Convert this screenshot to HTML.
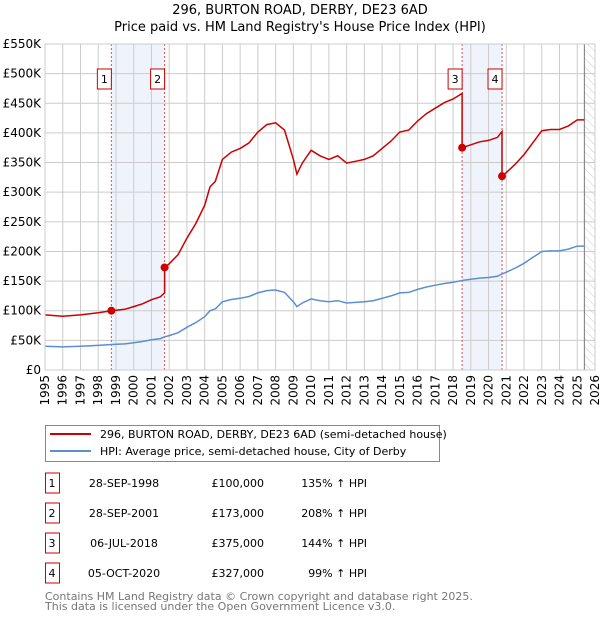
<!DOCTYPE html>
<html><head><meta charset="utf-8">
<style>
body{margin:0;background:#fff;font-family:"DejaVu Sans","Liberation Sans",sans-serif;}
svg text{font-family:"DejaVu Sans","Liberation Sans",sans-serif;}
</style></head>
<body>
<svg id="chart" width="600" height="620" xmlns="http://www.w3.org/2000/svg">
<defs>
<pattern id="hatch" width="6" height="6" patternUnits="userSpaceOnUse" patternTransform="rotate(-45)">
<line x1="0" y1="0" x2="0" y2="6" stroke="#ccc" stroke-width="1"/>
</pattern>
</defs>
<text x="300" y="14" text-anchor="middle" font-size="13">296, BURTON ROAD, DERBY, DE23 6AD</text>
<text x="300" y="31" text-anchor="middle" font-size="13">Price paid vs. HM Land Registry's House Price Index (HPI)</text>
<g id="plot"></g>
<g>
<rect x="45.5" y="425.5" width="394" height="36" fill="#fff" stroke="#888"/>
<line x1="50" y1="434" x2="91" y2="434" stroke="#cc0000" stroke-width="2"/>
<text x="100" y="438" font-size="11">296, BURTON ROAD, DERBY, DE23 6AD (semi-detached house)</text>
<line x1="50" y1="451" x2="91" y2="451" stroke="#5b8fd0" stroke-width="2"/>
<text x="100" y="455" font-size="11">HPI: Average price, semi-detached house, City of Derby</text>
</g>
<g id="table"></g>
<text x="45" y="600" font-size="11" fill="#777">Contains HM Land Registry data © Crown copyright and database right 2025.</text>
<text x="45" y="610" font-size="11" fill="#777">This data is licensed under the Open Government Licence v3.0.</text>
</svg>
<script>
const hpiYears=[1995,1996,1997,1998,1998.74,1999.5,2000,2000.5,2001,2001.5,2001.74,2002,2002.5,2003,2003.5,2004,2004.3,2004.6,2005,2005.5,2006,2006.5,2007,2007.5,2008,2008.5,2009,2009.2,2009.5,2010,2010.5,2011,2011.5,2012,2012.5,2013,2013.5,2014,2014.5,2015,2015.5,2016,2016.5,2017,2017.5,2018,2018.51,2019,2019.5,2020,2020.5,2020.76,2021,2021.5,2022,2022.5,2023,2023.5,2024,2024.5,2025,2025.4];
const hpiValues=[40000,39000,40000,41500,43000,44000,46000,48000,51000,53000,56000,58000,63000,72000,80000,90000,100000,103000,115000,119000,121000,124000,130000,134000,135000,131000,115000,107000,113000,120000,117000,115000,117000,113000,114000,115000,117000,121000,125000,130000,131000,136000,140000,143000,146000,148000,151000,153000,155000,156000,158000,162000,165000,172000,180000,190000,200000,201000,201000,204000,209000,209000];
const saleYears=[1998.74,2001.74,2018.51,2020.76];
const salePrices=[100000,173000,375000,327000];
const saleLabels=["1","2","3","4"];
const saleDates=["28-SEP-1998","28-SEP-2001","06-JUL-2018","05-OCT-2020"];
const salePriceText=["£100,000","£173,000","£375,000","£327,000"];
const saleHpiText=["135% ↑ HPI","208% ↑ HPI","144% ↑ HPI","99% ↑ HPI"];
const yTicks=[0,50000,100000,150000,200000,250000,300000,350000,400000,450000,500000,550000];
const yTickLabels=["£0","£50K","£100K","£150K","£200K","£250K","£300K","£350K","£400K","£450K","£500K","£550K"];
const xTicks=[1995,1996,1997,1998,1999,2000,2001,2002,2003,2004,2005,2006,2007,2008,2009,2010,2011,2012,2013,2014,2015,2016,2017,2018,2019,2020,2021,2022,2023,2024,2025,2026];

const NS="http://www.w3.org/2000/svg";
const X0=45,X1=595,Y0=370,Y1=44;
const xs=y=>X0+(y-1995)/(2026-1995)*(X1-X0);
const ys=v=>Y0-v/550000*(Y0-Y1);
const plot=document.getElementById('plot');
function mk(tag,attrs,parent){const e=document.createElementNS(NS,tag);for(const k in attrs)e.setAttribute(k,attrs[k]);(parent||plot).appendChild(e);return e;}
function hpiAt(t){for(let i=0;i<hpiYears.length-1;i++){if(t<=hpiYears[i+1]){const f=(t-hpiYears[i])/(hpiYears[i+1]-hpiYears[i]);return hpiValues[i]+f*(hpiValues[i+1]-hpiValues[i]);}}return hpiValues[hpiValues.length-1];}

// shaded spans
for(let i=0;i<saleYears.length;i+=2){
 const r=mk('rect',{x:xs(saleYears[i]),y:Y1,width:xs(saleYears[i+1])-xs(saleYears[i]),height:Y0-Y1,fill:'#eef3fc'});
 
 
}
// hatch
const lastY=hpiYears[hpiYears.length-1];
const h=mk('rect',{x:xs(lastY),y:Y1,width:X1-xs(lastY),height:Y0-Y1,fill:'url(#hatch)'});


// grid
yTicks.forEach((v,i)=>{
 const l=mk('line',{x1:X0,x2:X1,y1:ys(v),y2:ys(v),stroke:'#ccc','stroke-width':1});
 
 
 const t=mk('text',{x:X0-4,y:ys(v)+4,'text-anchor':'end','font-size':12});
 t.textContent=yTickLabels[i];
 
 
});
xTicks.forEach(y=>{
 const l=mk('line',{x1:xs(y),x2:xs(y),y1:Y1,y2:Y0,stroke:'#ccc','stroke-width':1});
 
 
 const t=mk('text',{x:0,y:0,'font-size':12,'text-anchor':'end',transform:`translate(${xs(y)+4},${Y0+5}) rotate(-90)`});
 t.textContent=y;
 
 
});
const vl=mk('line',{x1:xs(lastY),x2:xs(lastY),y1:Y1,y2:Y0,stroke:'#777','stroke-width':1});


// sale dashed lines
saleYears.forEach(s=>{
 const l=mk('line',{x1:xs(s),x2:xs(s),y1:Y1,y2:Y0,stroke:'#e05050','stroke-width':1,'stroke-dasharray':'2,2'});
 
 
});
// HPI line
let d='';
hpiYears.forEach((y,i)=>{d+=(i?'L':'M')+xs(y).toFixed(1)+','+ys(hpiValues[i]).toFixed(1);});
const hp=mk('path',{d:d,fill:'none',stroke:'#5b8fd0','stroke-width':1.5});


// price line: HPI scaled from latest sale
let pd='';
hpiYears.forEach((y,i)=>{
 let k=0;for(let j=0;j<saleYears.length;j++){if(y>=saleYears[j]-1e-6)k=j;}
 const ratio=salePrices[k]/hpiAt(saleYears[k]);
 if(saleYears.includes(y)&&k>0){
  const pr=salePrices[k-1]/hpiAt(saleYears[k-1]);
  pd+='L'+xs(y).toFixed(1)+','+ys(hpiValues[i]*pr).toFixed(1);
 }
 pd+=(i?'L':'M')+xs(y).toFixed(1)+','+ys(hpiValues[i]*ratio).toFixed(1);
});
const pp=mk('path',{d:pd,fill:'none',stroke:'#cc0000','stroke-width':1.5});


// sale points + labels
saleYears.forEach((s,i)=>{
 const c=mk('circle',{cx:xs(s),cy:ys(salePrices[i]),r:4,fill:'#cc0000'});
 
 
 const b=mk('rect',{x:xs(s)-14,y:69,width:14,height:20,fill:'#fff',stroke:'#cc0000'});
 
 
 const t=mk('text',{x:xs(s)-7,y:83,'text-anchor':'middle','font-size':11});
 t.textContent=saleLabels[i];
 
 
});
const ax=mk('rect',{x:X0,y:Y1,width:X1-X0,height:Y0-Y1,fill:'none',stroke:'#ccc'});


// table
const tb=document.getElementById('table');
saleLabels.forEach((lab,i)=>{
 const cy=483+i*30;
 const g=mk('g',{},tb);
 
 
 mk('rect',{x:45.5,y:cy-10,width:14,height:20,fill:'#fff',stroke:'#cc0000'},g);
 const cells=[[52,lab,'middle'],[124,saleDates[i],'middle'],[264,salePriceText[i],'end'],[367,saleHpiText[i],'end']];
 cells.forEach(c=>{const t=mk('text',{x:c[0],y:cy+4,'text-anchor':c[2],'font-size':11},g);t.textContent=c[1];});
});
</script>
</body></html>
